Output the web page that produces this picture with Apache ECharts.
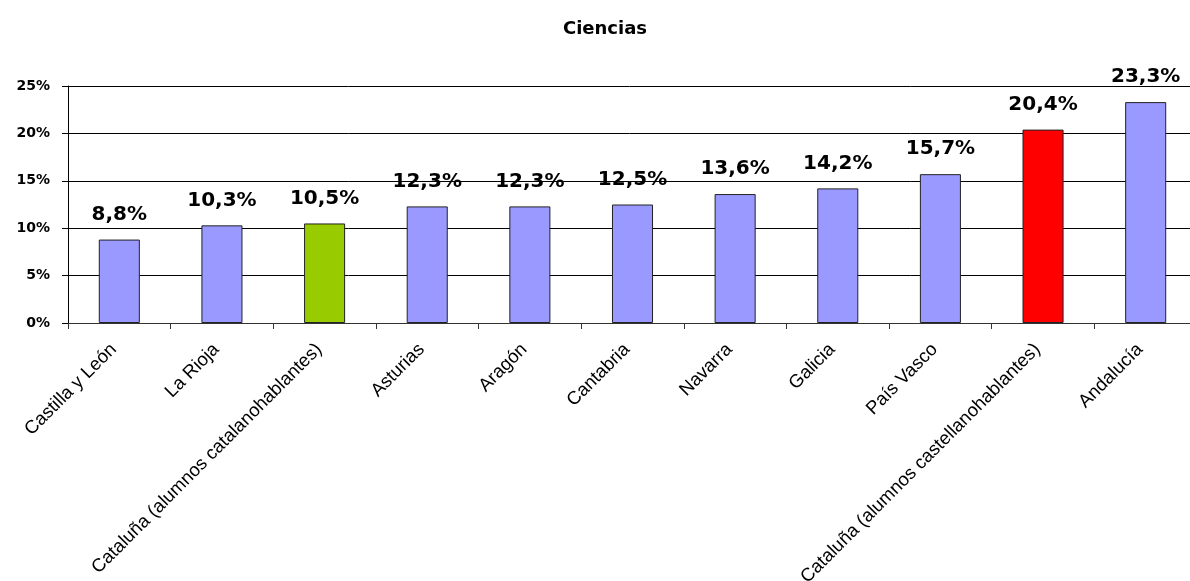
<!DOCTYPE html>
<html>
<head>
<meta charset="utf-8">
<script src="https://cdn.jsdelivr.net/npm/echarts@6/dist/echarts.min.js"></script>
<style>
html,body{margin:0;padding:0;background:#fff;overflow:hidden;}
#chart{width:1190px;height:581px;}
</style>
</head>
<body>
<div id="chart"></div>
<script>
const categories = [
  'Castilla y León',
  'La Rioja',
  'Cataluña (alumnos catalanohablantes)',
  'Asturias',
  'Aragón',
  'Cantabria',
  'Navarra',
  'Galicia',
  'País Vasco',
  'Cataluña (alumnos castellanohablantes)',
  'Andalucía'
];
const values = [8.8, 10.3, 10.5, 12.3, 12.3, 12.5, 13.6, 14.2, 15.7, 20.4, 23.3];
const barColors = ['#9999FF', '#9999FF', '#99CC00', '#9999FF', '#9999FF', '#9999FF', '#9999FF', '#9999FF', '#9999FF', '#FF0000', '#9999FF'];
const yTicks = [0, 5, 10, 15, 20, 25];

const chart = echarts.init(document.getElementById('chart'));
chart.setOption({
  animation: false,
  backgroundColor: '#ffffff',
  title: {
    text: 'Ciencias',
    left: 600,
    top: 15,
    textAlign: 'center',
    textStyle: { fontFamily: 'DejaVu Sans', fontWeight: 'bold', fontSize: 18, color: '#000' }
  },
  grid: { left: 68, top: 86, width: 1129, height: 237, containLabel: false, outerBoundsMode: 'none' },
  xAxis: {
    type: 'category',
    data: categories,
    axisLine: { lineStyle: { color: '#333', width: 1 } },
    axisTick: { show: true, length: 6, alignWithLabel: false, lineStyle: { color: '#333' } },
    axisLabel: {
      interval: 0,
      rotate: 45,
      margin: 18,
      padding: [0, 8, 0, 0],
      fontFamily: 'Liberation Sans, Arial',
      fontSize: 18.5,
      color: '#000'
    }
  },
  yAxis: {
    type: 'value',
    min: yTicks[0],
    max: yTicks[yTicks.length - 1],
    interval: 5,
    axisLine: { show: true, lineStyle: { color: '#000', width: 1 } },
    axisTick: { show: true, length: 6, lineStyle: { color: '#000' } },
    splitLine: { show: true, lineStyle: { color: '#000', width: 1 } },
    axisLabel: {
      formatter: '{value}%',
      margin: 18,
      fontFamily: 'DejaVu Sans',
      fontWeight: 'bold',
      fontSize: 14,
      color: '#000'
    }
  },
  series: [{
    type: 'bar',
    data: values.map((v, i) => ({ value: v, itemStyle: { color: barColors[i] } })),
    barWidth: '40%',
    itemStyle: { borderColor: '#222', borderWidth: 1 },
    label: {
      show: true,
      position: 'top',
      distance: 15,
      formatter: p => p.value.toFixed(1).replace('.', ',') + '%',
      fontFamily: 'DejaVu Sans',
      fontWeight: 'bold',
      fontSize: 20,
      color: '#000'
    }
  }]
});
</script>
</body>
</html>
